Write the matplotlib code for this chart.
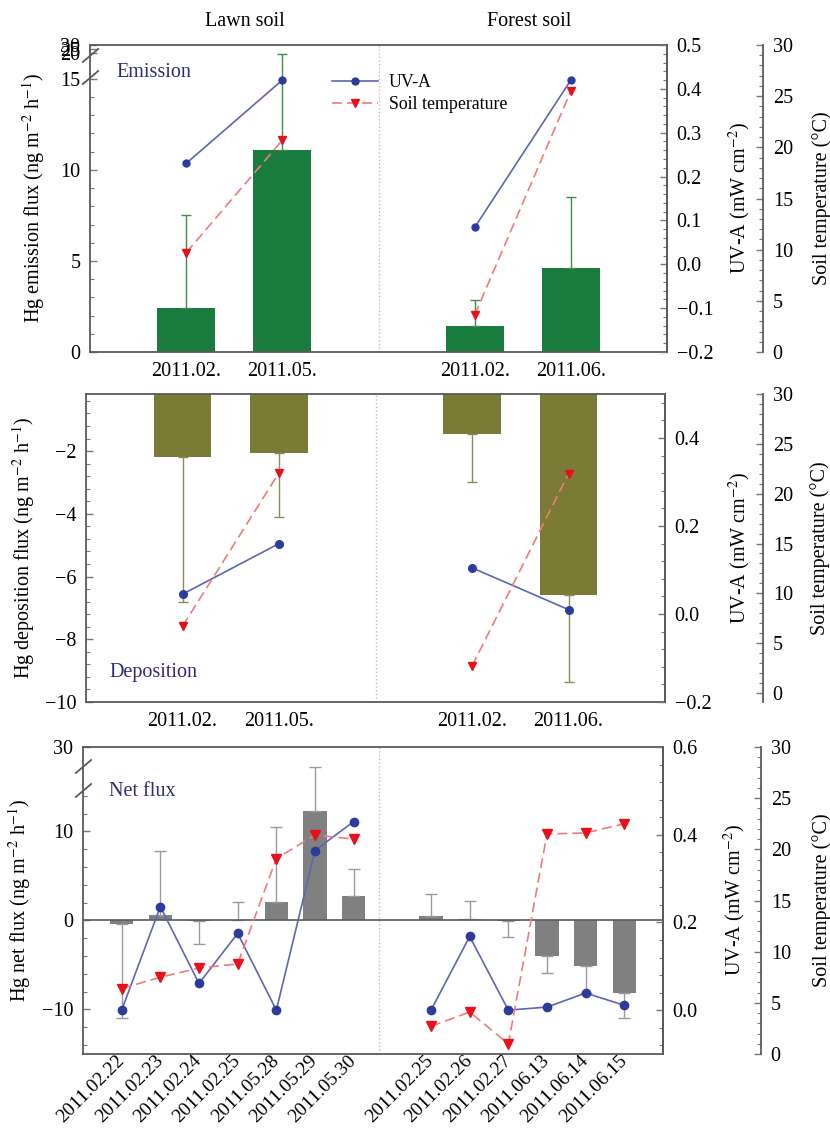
import numpy as np
import matplotlib
matplotlib.use('Agg')
import matplotlib.pyplot as plt
import matplotlib.transforms as mtransforms
from matplotlib.ticker import FixedLocator, MultipleLocator, FuncFormatter

## plt config
plt.rcParams['font.family'] = ['Liberation Serif', 'DejaVu Serif']
plt.rcParams['mathtext.fontset'] = 'stix'
plt.rcParams['font.size'] = 14.5

## data
# panel 1 / 2 : lawn 2011.02, lawn 2011.05, forest 2011.02, forest 2011.06
period_labels = ['2011.02.', '2011.05.', '2011.02.', '2011.06.']

emission_flux = [2.4, 11.1, 1.42, 4.6]
emission_err = [5.15, 8.7, 1.43, 3.9]
emission_uva = [0.23, 0.42, 0.084, 0.42]
emission_temp = [9.7, 20.7, 3.6, 25.5]

deposition_flux = [-2.19, -2.06, -1.46, -6.6]
deposition_err = [4.63, 2.04, 1.53, 2.77]
deposition_uva = [0.045, 0.16, 0.105, 0.01]
deposition_temp = [6.7, 22.1, 2.7, 22.0]

# panel 3 : daily net flux
lawn_dates = ['2011.02.22', '2011.02.23', '2011.02.24', '2011.02.25',
              '2011.05.28', '2011.05.29', '2011.05.30']
forest_dates = ['2011.02.25', '2011.02.26', '2011.02.27',
                '2011.06.13', '2011.06.14', '2011.06.15']
net_flux = [-0.35, 0.6, -0.05, 0.1, 2.1, 12.3, 2.7,
            0.45, 0.2, -0.05, -4.0, -5.15, -8.2]
net_err = [10.6, 7.2, 2.55, 2.0, 8.4, 6.9, 3.1,
           2.55, 2.0, 1.85, 1.9, 3.0, 2.8]
net_uva = [0.0, 0.236, 0.061, 0.175, 0.0, 0.364, 0.43,
           0.0, 0.168, 0.0, 0.007, 0.039, 0.011]
net_temp = [6.4, 7.5, 8.4, 8.8, 19.1, 21.4, 21.0,
            2.7, 4.1, 1.0, 21.5, 21.6, 22.5]

## colours
SPINE = '#5a5a5a'
BLUE_LINE, BLUE_DOT = '#5c66b2', '#2c3c9c'
RED_LINE, RED_MARK = '#f07a7a', '#e8101a'
NAVY = '#2b2b7a'


def minus_fmt(v, pos):
    return f'{v:g}'.replace('-', '\u2212')


def uv_fmt(v, pos):
    return f'{v:.1f}'.replace('-', '\u2212')


def broken_scale(ax, xp, fp):
    ax.set_yscale('function', functions=(lambda v: np.interp(v, xp, fp),
                                         lambda v: np.interp(v, fp, xp)))


def break_marks(ax, levels):
    for v in levels:
        ax.plot([0], [v], transform=ax.get_yaxis_transform(), ls='none',
                marker=[(-1, -0.85), (1, 0.85)], ms=12, mec=SPINE, mew=1.3,
                clip_on=False, zorder=5)


def make_twins(ax, tp_pos):
    uv = ax.twinx()
    tp = ax.twinx()
    for s in ['top', 'bottom', 'left']:
        uv.spines[s].set_visible(False)
        tp.spines[s].set_visible(False)
    tp.spines['right'].set_position(('axes', tp_pos))
    for a in (ax, uv, tp):
        for s in a.spines.values():
            s.set_color(SPINE)
            s.set_linewidth(1.3)
        a.tick_params(axis='y', which='both', direction='in', color='#777777',
                      labelcolor='black', pad=7)
        a.tick_params(axis='y', which='major', length=5, width=1)
        a.tick_params(axis='y', which='minor', length=3, width=0.8)
    ax.tick_params(axis='x', length=0, pad=7)
    tp.set_ylim(0, 30)
    tp.yaxis.set_major_locator(MultipleLocator(5))
    tp.yaxis.set_minor_locator(MultipleLocator(1))
    return uv, tp


def lines(uv, tp, x, uva, temp, ms):
    l1, = uv.plot(x, uva, color=BLUE_LINE, lw=1.2, marker='o', ms=ms,
                  mfc=BLUE_DOT, mec=BLUE_DOT, label='UV-A')
    l2, = tp.plot(x, temp, color=RED_LINE, lw=1.2, ls=(0, (6, 3)), marker='v',
                  ms=ms + 0.5, mfc=RED_MARK, mec=RED_MARK, label='Soil temperature')
    return l1, l2


def one_sided(vals, err):
    vals = np.asarray(vals)
    err = np.asarray(err)
    return [np.where(vals < 0, err, 0), np.where(vals >= 0, err, 0)]


W, H = 830, 1134
fig = plt.figure(figsize=(W / 100, H / 100), dpi=100)


def axes_px(l, t, r, b):
    return fig.add_axes([l / W, 1 - b / H, (r - l) / W, (b - t) / H])


pos4 = np.array([1, 2, 4, 5])

## panel 1 : emission
ax1 = axes_px(90, 45, 667, 352)
broken_scale(ax1, [-1000, 15, 20, 30, 1000], [-1000, 15, 16.42, 16.86, 59.3])
ax1.bar(pos4, emission_flux, width=0.6, color='#197b3e', zorder=2)
ax1.errorbar(pos4, emission_flux, yerr=one_sided(emission_flux, emission_err),
             fmt='none', ecolor='#3f8a55', elinewidth=1, capsize=3.5, zorder=3)
ax1.set_xlim(0, 6)
ax1.set_ylim(0, 30)
ax1.yaxis.set_major_locator(FixedLocator([0, 5, 10, 15, 20, 25, 30]))
ax1.yaxis.set_minor_locator(FixedLocator(np.arange(0, 16, 1)))
ax1.yaxis.set_major_formatter(FuncFormatter(minus_fmt))
ax1.axvline(3, color='#bbbbbb', ls=':', lw=1, zorder=1)
ax1.set_xticks(pos4)
ax1.set_xticklabels(period_labels)
ax1.set_ylabel('Hg emission flux (ng m$^{-2}$ h$^{-1}$)')
ax1.yaxis.set_label_coords(-0.075, 0.5)
break_marks(ax1, [15.4, 19.6])
ax1.text(0.045, 0.895, 'Emission', color=NAVY, transform=ax1.transAxes)
uv1, tp1 = make_twins(ax1, (763 - 90) / 577)
uv1.set_ylim(-0.2, 0.5)
uv1.yaxis.set_major_locator(MultipleLocator(0.1))
uv1.yaxis.set_minor_locator(MultipleLocator(0.02))
uv1.yaxis.set_major_formatter(FuncFormatter(uv_fmt))
for g in (slice(0, 2), slice(2, 4)):
    h1, h2 = lines(uv1, tp1, pos4[g], emission_uva[g], emission_temp[g], 5)
tp1.legend([h1, h2], ['UV-A', 'Soil temperature'], loc='upper left',
           bbox_to_anchor=(0.419, 0.905), frameon=False, fontsize=12.8,
           handlelength=2.6, handletextpad=0.6, labelspacing=0.3,
           borderpad=0, borderaxespad=0)
uv1.set_ylabel('UV-A (mW cm$^{-2}$)')
uv1.yaxis.set_label_coords(1.104, 0.5)
tp1.set_ylabel('Soil temperature (°C)')
tp1.yaxis.set_label_coords(1.251, 0.5)

## panel 2 : deposition
ax2 = axes_px(86, 394, 665, 702)
ax2.bar(pos4, deposition_flux, width=0.6, color='#7b7b35', zorder=2)
ax2.errorbar(pos4, deposition_flux, yerr=one_sided(deposition_flux, deposition_err),
             fmt='none', ecolor='#8c8c58', elinewidth=1, capsize=3.5, zorder=3)
ax2.set_xlim(0, 6)
ax2.set_ylim(-10, -0.18)
ax2.yaxis.set_major_locator(FixedLocator([-10, -8, -6, -4, -2]))
ax2.yaxis.set_minor_locator(FixedLocator(np.arange(-10, -0.3, 0.4)))
ax2.yaxis.set_major_formatter(FuncFormatter(minus_fmt))
ax2.axvline(3, color='#bbbbbb', ls=':', lw=1, zorder=1)
ax2.set_xticks(pos4)
ax2.set_xticklabels(period_labels)
ax2.set_ylabel('Hg deposition flux (ng m$^{-2}$ h$^{-1}$)')
ax2.yaxis.set_label_coords(-0.085, 0.5)
ax2.text(0.04, 0.08, 'Deposition', color=NAVY, transform=ax2.transAxes)
uv2, tp2 = make_twins(ax2, (763 - 86) / 579)
uv2.set_ylim(-0.2, 0.5)
uv2.yaxis.set_major_locator(FixedLocator([-0.2, 0.0, 0.2, 0.4]))
uv2.yaxis.set_minor_locator(MultipleLocator(0.04))
uv2.yaxis.set_major_formatter(FuncFormatter(uv_fmt))
tp2.set_ylim(-0.9, 30)
for g in (slice(0, 2), slice(2, 4)):
    lines(uv2, tp2, pos4[g], deposition_uva[g], deposition_temp[g], 5.5)
uv2.set_ylabel('UV-A (mW cm$^{-2}$)')
uv2.yaxis.set_label_coords(1.107, 0.5)
tp2.set_ylabel('Soil temperature (°C)')
tp2.yaxis.set_label_coords(1.25, 0.5)

## panel 3 : net flux
pos_net = np.concatenate([np.arange(1, 8), np.arange(9, 15)])
n_lawn = len(lawn_dates)
ax3 = axes_px(83, 747, 663, 1054)
broken_scale(ax3, [-1000, 15, 20, 30, 1000], [-1000, 15, 17.69, 19.48, 190.3])
ax3.bar(pos_net, net_flux, width=0.6, color='#808080', zorder=2)
ax3.errorbar(pos_net, net_flux, yerr=one_sided(net_flux, net_err),
             fmt='none', ecolor='#9a9a9a', elinewidth=1, capsize=4, zorder=3)
ax3.axhline(0, color=SPINE, lw=1.2, zorder=3)
ax3.set_xlim(0, 15)
ax3.set_ylim(-15, 30)
ax3.yaxis.set_major_locator(FixedLocator([-10, 0, 10, 30]))
ax3.yaxis.set_minor_locator(FixedLocator(np.arange(-14, 15, 2)))
ax3.yaxis.set_major_formatter(FuncFormatter(minus_fmt))
ax3.axvline(7.65, color='#bbbbbb', ls=':', lw=1, zorder=1)
ax3.set_xticks(pos_net)
ax3.set_xticklabels(lawn_dates + forest_dates, rotation=45, ha='right',
                    va='center', rotation_mode='anchor', fontsize=14)
shift = mtransforms.ScaledTranslation(5 / 100, 0, fig.dpi_scale_trans)
for lab in ax3.get_xticklabels():
    lab.set_transform(lab.get_transform() + shift)
ax3.set_ylabel('Hg net flux (ng m$^{-2}$ h$^{-1}$)')
ax3.yaxis.set_label_coords(-0.086, 0.5)
break_marks(ax3, [14.6, 19.4])
ax3.text(0.045, 0.84, 'Net flux', color=NAVY, transform=ax3.transAxes)
uv3, tp3 = make_twins(ax3, (761 - 83) / 580)
ax3.tick_params(axis='x', pad=3)
uv3.set_ylim(-0.1, 0.6)
uv3.yaxis.set_major_locator(FixedLocator([0.0, 0.2, 0.4, 0.6]))
uv3.yaxis.set_minor_locator(MultipleLocator(0.04))
uv3.yaxis.set_major_formatter(FuncFormatter(uv_fmt))
for g in (slice(0, n_lawn), slice(n_lawn, None)):
    lines(uv3, tp3, pos_net[g], net_uva[g], net_temp[g], 6)
uv3.set_ylabel('UV-A (mW cm$^{-2}$)')
uv3.yaxis.set_label_coords(1.102, 0.5)
tp3.set_ylabel('Soil temperature (°C)')
tp3.yaxis.set_label_coords(1.257, 0.5)

## column titles
fig.text(245 / W, 1 - 22 / H, 'Lawn soil', ha='center', va='center')
fig.text(529 / W, 1 - 22 / H, 'Forest soil', ha='center', va='center')

plt.savefig('out.png', dpi=100)
